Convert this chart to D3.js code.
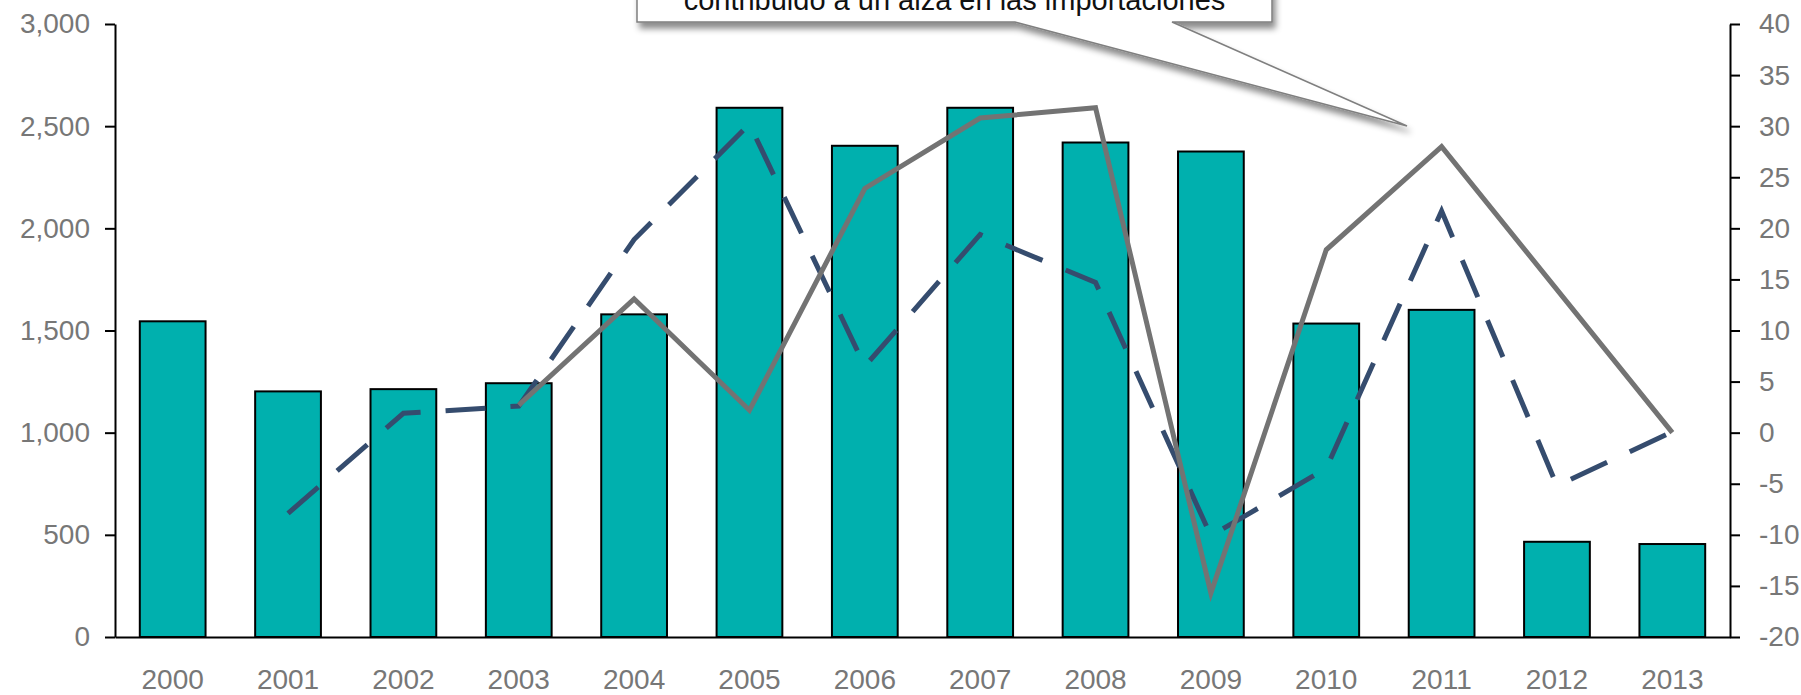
<!DOCTYPE html>
<html>
<head>
<meta charset="utf-8">
<script src="https://cdn.jsdelivr.net/npm/d3@7"></script>
<style>
  body { margin: 0; background: #fff; }
  svg { display: block; font-family: "Liberation Sans", Arial, sans-serif; }
  .axis path, .axis line { stroke: #000; stroke-width: 2; }
  .axis text { fill: #777; font-size: 28px; }
</style>
</head>
<body>
<svg id="chart" width="1801" height="695"></svg>
<script>
const years = ['2000','2001','2002','2003','2004','2005','2006','2007','2008','2009','2010','2011','2012','2013']
const barValues = [1545, 1202, 1213, 1242, 1579, 2590, 2404, 2590, 2420, 2376, 1534, 1601, 466, 455]
// dashed navy series, no value in 2000
const dashValues = [null, -7.9, 1.9, 2.6, 18.9, 30.2, 6.5, 19.4, 14.7, -10.1, -3.5, 21.7, -5.2, 0.1]
// solid grey series, starts in 2003
const solidValues = [null, null, null, 2.7, 13.1, 2.2, 23.9, 30.8, 31.8, -15.7, 17.9, 28.0, 14.0, 0.0]
const leftTicks = [0, 500, 1000, 1500, 2000, 2500, 3000]
const rightTicks = [-20, -15, -10, -5, 0, 5, 10, 15, 20, 25, 30, 35, 40]
const calloutText = 'contribuido a un alza en las importaciones'

const margin = { left: 115, right: 71, top: 24, bottom: 58 }
const width = 1801, height = 695

const svg = d3.select('#chart')

const xscale = d3.scaleBand()
    .domain(years)
    .range([margin.left, width - margin.right])
    .paddingInner(0.43)
    .paddingOuter(0.215)

const yleft = d3.scaleLinear()
    .domain([0, 3000])
    .range([height - margin.bottom, margin.top])

const yright = d3.scaleLinear()
    .domain([-20, 40])
    .range([height - margin.bottom, margin.top])

const cx = d => xscale(d) + xscale.bandwidth() / 2

// drop shadow for the callout
const defs = svg.append('defs')
defs.append('filter')
    .attr('id', 'shadow')
    .attr('x', '-10%').attr('y', '-50%')
    .attr('width', '120%').attr('height', '200%')
  .append('feDropShadow')
    .attr('dx', 3).attr('dy', 6)
    .attr('stdDeviation', 3)
    .attr('flood-color', '#000')
    .attr('flood-opacity', 0.45)

// bars
svg.append('g')
  .selectAll('rect')
  .data(years)
  .join('rect')
    .attr('x', d => xscale(d))
    .attr('y', (d, i) => yleft(barValues[i]))
    .attr('width', xscale.bandwidth())
    .attr('height', (d, i) => yleft(0) - yleft(barValues[i]))
    .attr('fill', '#00b0ae')
    .attr('stroke', '#000')
    .attr('stroke-width', 2)

// axes
const leftAxis = d3.axisLeft(yleft)
    .tickValues(leftTicks)
    .tickFormat(d3.format(','))
    .tickSize(10)
    .tickPadding(15)
    .tickSizeOuter(0)

svg.append('g')
    .attr('class', 'axis')
    .attr('transform', `translate(${margin.left},0)`)
    .call(leftAxis)

const rightAxis = d3.axisRight(yright)
    .tickValues(rightTicks)
    .tickFormat(d => String(d))
    .tickSize(10)
    .tickPadding(19)
    .tickSizeOuter(0)

svg.append('g')
    .attr('class', 'axis')
    .attr('transform', `translate(${width - margin.right},0)`)
    .call(rightAxis)

const bottomAxis = d3.axisBottom(xscale)
    .tickSize(0)
    .tickPadding(32)
    .tickSizeOuter(0)

svg.append('g')
    .attr('class', 'axis')
    .attr('transform', `translate(0,${yleft(0)})`)
    .call(bottomAxis)

// lines
const line = d3.line()
    .defined(d => d.v !== null)
    .x(d => cx(d.year))
    .y(d => yright(d.v))

svg.append('path')
    .datum(years.map((y, i) => ({ year: y, v: dashValues[i] })))
    .attr('d', line)
    .attr('fill', 'none')
    .attr('stroke', '#354c6e')
    .attr('stroke-width', 5)
    .attr('stroke-dasharray', '40,25')
    .attr('stroke-linejoin', 'miter')

svg.append('path')
    .datum(years.map((y, i) => ({ year: y, v: solidValues[i] })))
    .attr('d', line)
    .attr('fill', 'none')
    .attr('stroke', '#737373')
    .attr('stroke-width', 5)
    .attr('stroke-linejoin', 'miter')

// callout box, partly above the top edge (as in the source slide)
const box = { x0: 637, x1: 1272, y0: -70, y1: 22 }
const tip = [1407, 126]
const callout = svg.append('g')
callout.append('path')
    .attr('d', `M${box.x0},${box.y0} L${box.x0},${box.y1} L1015,${box.y1} L${tip[0]},${tip[1]} ` +
               `L1172,${box.y1} L${box.x1},${box.y1} L${box.x1},${box.y0} Z`)
    .attr('fill', '#fff')
    .attr('stroke', '#7f7f7f')
    .attr('stroke-width', 1.5)
    .attr('filter', 'url(#shadow)')

callout.append('text')
    .attr('x', (box.x0 + box.x1) / 2)
    .attr('y', 10)
    .attr('text-anchor', 'middle')
    .attr('font-size', 29)
    .attr('fill', '#111')
    .text(calloutText)
</script>
</body>
</html>
